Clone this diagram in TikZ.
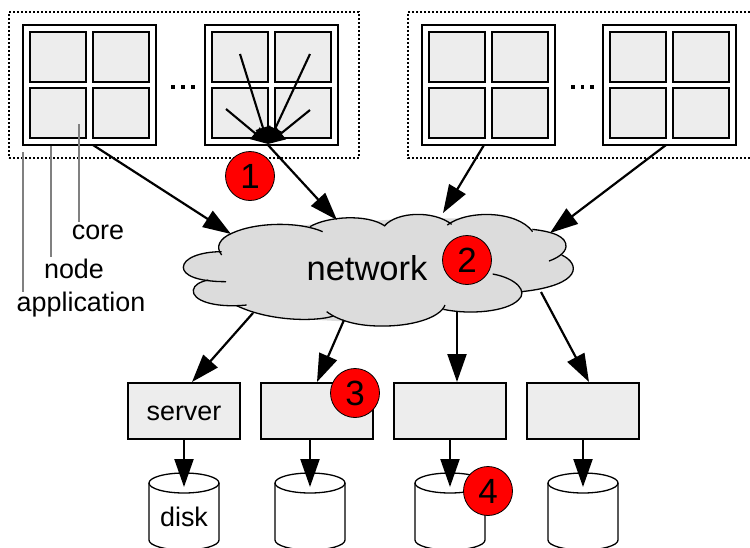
\documentclass[tikz,border=0pt]{standalone}
\usepackage{fontspec}
\setmainfont{Liberation Sans}
\usetikzlibrary{arrows.meta}
\definecolor{corefill}{HTML}{EDEDED}
\definecolor{cloudfill}{HTML}{DCDCDC}
\definecolor{leader}{HTML}{808080}
\tikzset{
  nodebox/.style={draw=black,line width=1.8pt,fill=white,minimum width=133pt,minimum height=120pt,inner sep=0pt,outer sep=0pt},
  corebox/.style={draw=black,line width=1.7pt,fill=corefill,minimum width=56pt,minimum height=50pt,inner sep=0pt,outer sep=0pt},
  serverbox/.style={draw=black,line width=1.3pt,fill=corefill,minimum width=112pt,minimum height=56pt,inner sep=0pt,outer sep=0pt},
  appframe/.style={draw=black,line width=1.4pt,dash pattern=on 2pt off 2pt},
  link/.style={draw=black,line width=2.2pt,-{Triangle[length=28pt,width=19pt]}},
  smalllink/.style={draw=black,line width=2.1pt,-{Triangle[length=17pt,width=15pt]}},
  leaderline/.style={draw=leader,line width=1.4pt},
  cloudline/.style={draw=black,line width=1.3pt},
  diskshape/.style={draw=black,line width=1.3pt,fill=white},
  badge/.style={circle,draw=black,line width=0.8pt,fill=red,minimum size=49pt,inner sep=0pt,font=\fontsize{35}{35}\selectfont},
  lbl/.style={anchor=base,inner sep=0pt,font=\fontsize{26.9}{30}\selectfont},
  dot/.style={fill=black,minimum size=3.6pt,inner sep=0pt,outer sep=0pt}
}
\begin{document}
\begin{tikzpicture}[x=1pt,y=-1pt]
\useasboundingbox (0,0) rectangle (750,547);
% application frames
\node[draw=none,inner sep=0pt,minimum width=350pt,minimum height=146pt,appframe] (appA) at (184,85) {};
\coordinate (appBtl) at (750,12);
\coordinate (appBl) at (408,12);
\coordinate (appBbl) at (408,158);
\coordinate (appBbr) at (750,158);
\draw[appframe] (appBtl) -- (appBl) -- (appBbl) -- (appBbr);
% compute nodes
\node[nodebox] (n1) at (89.5,85) {};
\node[nodebox] (n2) at (271.5,85) {};
\node[nodebox] (n3) at (488.5,85) {};
\node[nodebox] (n4) at (669.5,85) {};
\foreach \cx/\nm in {89.5/a,271.5/b,488.5/c,669.5/d}{
  \node[corebox] (core\nm1) at (\cx-31.5,57) {};
  \node[corebox] (core\nm2) at (\cx+31.5,57) {};
  \node[corebox] (core\nm3) at (\cx-31.5,113) {};
  \node[corebox] (core\nm4) at (\cx+31.5,113) {};
}
% ellipsis dots
\foreach \dx/\nm in {173/p,183/q,193/r,573/s,582.5/t,592/u}{
  \node[dot] (dot\nm) at (\dx,87) {};
}
% cloud
\begin{scope}[shift={(170pt,-190pt)},x=0.33333pt,y=-0.33333pt]
  \fill[cloudfill] (160,190) -- (300,110) -- (500,100) -- (720,85) -- (950,85) -- (1085,125) -- (1170,170) -- (1180,240) -- (1060,300) -- (1030,335) -- (820,360) -- (630,400) -- (350,385) -- (200,340) -- (120,300) -- (110,260) -- (100,210) -- cycle;
  \fill[cloudfill] (155,195) .. controls (135,170) and (150,145) .. (185,130) .. controls (260,95) and (390,95) .. (458,125) -- cycle;
  \fill[cloudfill] (420,110) .. controls (470,80) and (590,70) .. (645,108) -- cycle;
  \fill[cloudfill] (643,108) .. controls (680,65) and (790,60) .. (845,103) -- cycle;
  \fill[cloudfill] (832,105) .. controls (890,60) and (1040,60) .. (1088,125) -- cycle;
  \fill[cloudfill] (1087,118) .. controls (1150,125) and (1190,140) .. (1188,170) .. controls (1186,190) and (1160,205) .. (1137,213) -- cycle;
  \fill[cloudfill] (1175,195) .. controls (1230,220) and (1240,285) .. (1055,305) -- cycle;
  \fill[cloudfill] (968,252) .. controls (1040,265) and (1075,305) .. (1045,330) .. controls (1010,365) and (900,375) .. (820,358) -- cycle;
  \fill[cloudfill] (825,345) .. controls (810,385) and (720,410) .. (630,408) .. controls (570,408) and (510,395) .. (470,365) -- cycle;
  \fill[cloudfill] (490,378) .. controls (440,395) and (300,395) .. (200,347) -- cycle;
  \fill[cloudfill] (230,345) .. controls (130,355) and (65,330) .. (70,300) .. controls (72,285) and (90,275) .. (115,270) -- cycle;
  \fill[cloudfill] (168,275) .. controls (80,275) and (40,255) .. (40,232) .. controls (40,205) and (90,185) .. (155,185) -- cycle;
  \draw[cloudline] (155,195) .. controls (135,170) and (150,145) .. (185,130) .. controls (260,95) and (390,95) .. (458,125);
  \draw[cloudline] (420,110) .. controls (470,80) and (590,70) .. (645,108);
  \draw[cloudline] (643,108) .. controls (680,65) and (790,60) .. (845,103);
  \draw[cloudline] (832,105) .. controls (890,60) and (1040,60) .. (1088,125);
  \draw[cloudline] (1087,118) .. controls (1150,125) and (1190,140) .. (1188,170) .. controls (1186,190) and (1160,205) .. (1137,213);
  \draw[cloudline] (1175,195) .. controls (1230,220) and (1240,285) .. (1055,305);
  \draw[cloudline] (968,252) .. controls (1040,265) and (1075,305) .. (1045,330) .. controls (1010,365) and (900,375) .. (820,358);
  \draw[cloudline] (825,345) .. controls (810,385) and (720,410) .. (630,408) .. controls (570,408) and (510,395) .. (470,365);
  \draw[cloudline] (490,378) .. controls (440,395) and (300,395) .. (200,347);
  \draw[cloudline] (230,345) .. controls (130,355) and (65,330) .. (70,300) .. controls (72,285) and (90,275) .. (115,270);
  \draw[cloudline] (168,275) .. controls (80,275) and (40,255) .. (40,232) .. controls (40,205) and (90,185) .. (155,185);
\end{scope}
\node[lbl,font=\fontsize{34.5}{36}\selectfont] (net) at (367,280) {network};
% servers
\node[serverbox] (s1) at (184,411) {};
\node[serverbox] (s2) at (317,411) {};
\node[serverbox] (s3) at (450,411) {};
\node[serverbox] (s4) at (583,411) {};
\node[lbl] (serverlabel) at (184,420) {server};
% disks
\foreach \dx/\nm in {184/a,310/b,450/c,583/d}{
  \draw[diskshape] (\dx-35,483) -- (\dx-35,540) arc[start angle=180,end angle=360,x radius=35,y radius=-10] -- (\dx+35,483);
  \draw[diskshape] (\dx,483) ellipse[x radius=35,y radius=10];
  \coordinate (disk\nm) at (\dx,487);
  \coordinate (srv\nm) at (\dx,439);
}
\node[lbl] (disklabel) at (184,526) {disk};
% link end points
\coordinate (n1out) at (93,145);
\coordinate (n2out) at (268,145);
\coordinate (n3out) at (484,145);
\coordinate (n4out) at (666,145);
\coordinate (c1in) at (231,234);
\coordinate (c2in) at (337,220);
\coordinate (c3in) at (443,213);
\coordinate (c4in) at (550,233);
\coordinate (c1out) at (253,313);
\coordinate (c2out) at (344,320);
\coordinate (c3out) at (457,312);
\coordinate (c4out) at (541,292);
\coordinate (s1in) at (192,382);
\coordinate (s2in) at (317,382);
\coordinate (s3in) at (457,382);
\coordinate (s4in) at (589,382);
% links
\draw[link] (n1out) -- (c1in);
\draw[link] (n2out) -- (c2in);
\draw[link] (n3out) -- (c3in);
\draw[link] (n4out) -- (c4in);
\draw[link] (c1out) -- (s1in);
\draw[link] (c2out) -- (s2in);
\draw[link] (c3out) -- (s3in);
\draw[link] (c4out) -- (s4in);
\foreach \nm in {a,b,c,d}{
  \draw[link] (srv\nm) -- (disk\nm);
}
% gather inside the node
\coordinate (gather) at (268,144);
\coordinate (g1) at (240,54);
\coordinate (g2) at (310,54);
\coordinate (g3) at (226,109);
\coordinate (g4) at (310,110);
\draw[smalllink] (g1) -- (gather);
\draw[smalllink] (g2) -- (gather);
\draw[smalllink] (g3) -- (gather);
\draw[smalllink] (g4) -- (gather);
% leaders and labels
\node[lbl] (lcore) at (98,239) {core};
\node[lbl] (lnode) at (74,278) {node};
\node[lbl] (lapp) at (81,311) {application};
\coordinate (lc) at (79,124);
\coordinate (lce) at (79,222);
\coordinate (ln) at (51,146);
\coordinate (lne) at (51,257);
\coordinate (la) at (23,152);
\coordinate (lae) at (23,292);
\draw[leaderline] (lc) -- (lce);
\draw[leaderline] (ln) -- (lne);
\draw[leaderline] (la) -- (lae);
% badges
\node[badge] (b1) at (250,176) {1};
\node[badge] (b2) at (467,260) {2};
\node[badge] (b3) at (355,393) {3};
\node[badge] (b4) at (488,491) {4};
\end{tikzpicture}
\end{document}
